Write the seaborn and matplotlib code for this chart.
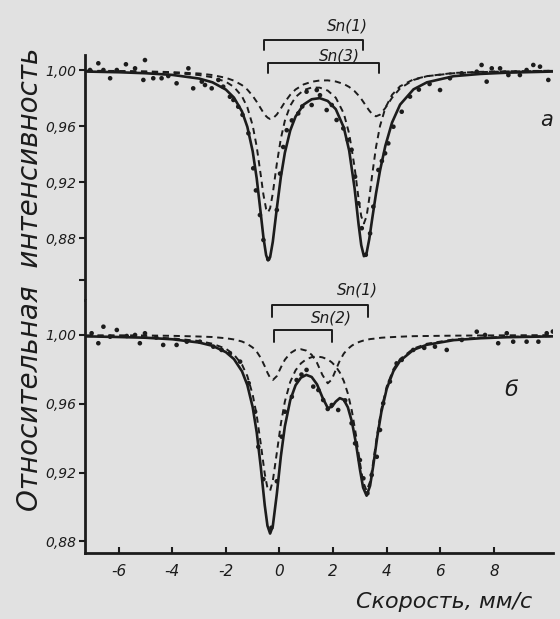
import matplotlib
matplotlib.use("Agg")
import matplotlib.pyplot as plt
import seaborn as sns

# --- panel a: fitted spectrum and its two doublets ---
vel_a = [-7.2, -6.0, -5.0, -4.0, -3.0, -2.5, -2.0, -1.7, -1.4, -1.2, -1.0, -0.85, -0.7, -0.6,
         -0.5, -0.43, -0.35, -0.25, -0.1, 0.05, 0.2, 0.4, 0.6, 0.9, 1.2, 1.5, 1.8, 2.1, 2.4,
         2.6, 2.8, 2.95, 3.05, 3.15, 3.25, 3.35, 3.45, 3.6, 3.75, 3.95, 4.2, 4.5, 5.0, 5.5,
         6.5, 7.5, 8.5, 10.2]
total_a = [.9989, .9984, .9977, .9965, .9939, .9912, .9860, .9803, .9704, .9594, .9419, .9225,
           .8976, .8805, .8678, .8641, .8663, .8773, .9012, .9235, .9409, .9568, .9668, .9753,
           .9791, .9799, .9779, .9720, .9589, .9424, .9157, .8899, .8749, .8670, .8693, .8793,
           .8926, .9117, .9281, .9459, .9625, .9753, .9862, .9912, .9956, .9972, .9981, .9989]
sn1_a = [.9994, .9991, .9987, .9980, .9964, .9948, .9916, .9879, .9812, .9734, .9603, .9452,
         .9250, .9110, .9008, .8983, .9013, .9119, .9330, .9510, .9638, .9745, .9807, .9856,
         .9875, .9874, .9853, .9802, .9689, .9545, .9308, .9081, .8955, .8904, .8956, .9084,
         .9239, .9448, .9600, .9730, .9823, .9884, .9933, .9956, .9977, .9985, .9990, .9994]
sn3_a = [.9995, .9993, .9990, .9985, .9975, .9964, .9944, .9924, .9892, .9860, .9815, .9773,
         .9726, .9695, .9670, .9658, .9650, .9654, .9682, .9725, .9771, .9823, .9861, .9897,
         .9916, .9925, .9926, .9918, .9900, .9879, .9849, .9818, .9794, .9766, .9737, .9710,
         .9687, .9669, .9681, .9729, .9802, .9869, .9929, .9956, .9979, .9987, .9991, .9995]

dots_ax = [-7.07, -6.76, -6.57, -6.32, -6.07, -5.73, -5.39, -5.08, -5.02, -4.71, -4.40, -4.15,
           -3.84, -3.40, -3.22, -2.90, -2.78, -2.53, -2.28, -2.10, -1.85, -1.72, -1.54, -1.38,
           -1.16, -0.98, -0.88, -0.73, -0.60, -0.42, -0.10, 0.02, 0.14, 0.27, 0.46, 0.70, 0.85,
           1.01, 1.20, 1.39, 1.51, 1.76, 1.95, 2.13, 2.38, 2.55, 2.69, 2.82, 2.94, 3.07, 3.22,
           3.38, 3.50, 3.69, 3.82, 3.94, 4.06, 4.25, 4.56, 4.87, 5.20, 5.60, 5.99, 6.36, 6.80,
           7.36, 7.54, 7.73, 7.92, 8.23, 8.54, 8.97, 9.22, 9.47, 9.72, 10.03]
dots_ay = [1.000, 1.0048, 1.000, .9941, 1.000, 1.0041, 1.0012, .9929, 1.0071, .9941, .9941, .9957,
           .9905, 1.0012, .9869, .9917, .9893, .9869, .9929, .9881, .9809, .9786, .9738, .9680,
           .9548, .9298, .9140, .8964, .8786, .8650, .9000, .9260, .9450, .9570, .9640, .9690, .9740,
           .9845, .9750, .9857, .9820, .9714, .9750, .9643, .9583, .9500, .9430, .9238, .9048, .8870, .8680,
           .8833, .9024, .9286, .9350, .9405, .9476, .9595, .9702, .9810, .9860, .9900, .9857, .9941, .9976,
           .9988, 1.0036, .9917, 1.0012, 1.0012, .9964, .9964, 1.000, 1.0036, 1.0024, .9929]

# --- panel b ---
vel_b = [-7.2, -6.0, -5.0, -4.0, -3.0, -2.5, -2.0, -1.7, -1.4, -1.2, -1.0, -0.85, -0.7, -0.55,
         -0.45, -0.35, -0.25, -0.1, 0.05, 0.2, 0.4, 0.6, 0.8, 1.0, 1.2, 1.4, 1.6, 1.8, 1.95, 2.1,
         2.25, 2.4, 2.55, 2.7, 2.85, 3.0, 3.12, 3.25, 3.38, 3.5, 3.65, 3.8, 4.0, 4.25, 4.5, 5.0,
         5.5, 6.5, 7.5, 8.5, 10.2]
total_b = [.9992, .9988, .9984, .9975, .9956, .9937, .9900, .9860, .9789, .9709, .9580, .9434,
           .9235, .9010, .8892, .8846, .8889, .9076, .9294, .9469, .9621, .9708, .9752, .9768,
           .9756, .9713, .9638, .9576, .9582, .9613, .9633, .9623, .9580, .9497, .9373, .9220,
           .9113, .9066, .9124, .9242, .9410, .9552, .9687, .9790, .9850, .9914, .9943, .9970,
           .9981, .9987, .9992]
sn1_b = [.9993, .9991, .9987, .9980, .9965, .9949, .9920, .9886, .9828, .9761, .9653, .9532,
         .9369, .9193, .9111, .9095, .9152, .9315, .9483, .9613, .9727, .9795, .9835, .9859,
         .9871, .9875, .9870, .9858, .9841, .9817, .9782, .9732, .9660, .9559, .9422, .9260,
         .9146, .9095, .9148, .9264, .9428, .9568, .9700, .9801, .9860, .9921, .9949, .9974,
         .9984, .9989, .9993]
sn2_b = [.9998, .9998, .9997, .9995, .9991, .9988, .9981, .9974, .9962, .9948, .9927, .9903,
         .9867, .9818, .9781, .9751, .9738, .9761, .9811, .9856, .9894, .9913, .9917, .9909,
         .9885, .9838, .9768, .9719, .9741, .9797, .9851, .9892, .9919, .9938, .9952, .9961,
         .9967, .9972, .9976, .9978, .9981, .9984, .9986, .9988, .9990, .9993, .9994, .9996,
         .9997, .9998, .9999]

dots_bx = [-7.01, -6.76, -6.57, -6.32, -6.07, -5.70, -5.39, -5.21, -5.02, -4.60, -4.34, -3.84,
           -3.46, -2.97, -2.47, -2.16, -1.85, -1.47, -1.15, -0.91, -0.79, -0.60, -0.30, -0.10,
           0.08, 0.20, 0.46, 0.64, 0.82, 1.01, 1.26, 1.45, 1.63, 1.80, 1.95, 2.19, 2.45, 2.69,
           2.82, 3.00, 3.13, 3.28, 3.44, 3.63, 3.75, 3.87, 4.12, 4.37, 4.56, 4.99, 5.40, 5.80,
           6.24, 6.80, 7.36, 7.67, 8.16, 8.48, 8.72, 9.22, 9.66, 9.97, 10.2]
dots_by = [1.001, .9952, 1.0048, .999, 1.0029, .9994, 1.000, .9952, 1.001, .9985, .9942, .9942,
           .9961, .9961, .9932, .9913, .9893, .9845, .9720, .9554, .9350, .9162, .8880, .9150,
           .9409, .9554, .9641, .9738, .9770, .9797, .9700, .9680, .9622, .9570, .9593, .9564,
           .9620, .9487, .9370, .9273, .9167, .9080, .9186, .9292, .9448, .9603, .9729, .9835,
           .9855, .9913, .9925, .9932, .9913, .9971, 1.0019, 1.000, .9952, 1.001, .9961, .9961,
           .9961, 1.001, 1.002]

# doublet brackets: left line, right line, bar level, label, label centre (x, y)
brackets_a = [(-0.58, 3.13, 1.0214, "Sn(1)", 2.52, 1.0314),
              (-0.42, 3.72, 1.0048, "Sn(3)", 2.22, 1.0100)]
brackets_b = [(-0.29, 3.31, 1.0174, "Sn(1)", 2.89, 1.0262),
              (-0.20, 1.96, 1.0029, "Sn(2)", 1.92, 1.0099)]
yticks = [1.00, 0.96, 0.92, 0.88]
ytick_labels = ["1,00", "0,96", "0,92", "0,88"]
xticks = [-6, -4, -2, 0, 2, 4, 6, 8]

paper = "#e1e1e1"
ink = "#1c1c1c"

sns.set_style("ticks")
plt.rcParams["font.family"] = ["DejaVu Sans"]
plt.rcParams["font.style"] = "italic"

fig = plt.figure(figsize=(5.6, 6.19), dpi=100, facecolor=paper)
ax1 = fig.add_axes([0.1518, 0.5153, 0.8357, 0.3958], facecolor=paper)
ax2 = fig.add_axes([0.1518, 0.1066, 0.8357, 0.4087], facecolor=paper)


def draw_panel(ax, vel, total, comps, dx, dy, brackets):
    for comp in comps:
        sns.lineplot(x=vel, y=comp, ax=ax, color=ink, lw=1.4, ls="--")
        ax.lines[-1].set_dashes([3.2, 2.4])
    sns.lineplot(x=vel, y=total, ax=ax, color=ink, lw=1.9)
    sns.scatterplot(x=dx, y=dy, ax=ax, s=11, color=ink, edgecolor="none", zorder=5)
    step = 0.0068
    for left, right, level, label, lx, ly in brackets:
        ax.plot([left, left, right, right], [level - step, level, level, level - step],
                color=ink, lw=1.4, clip_on=False)
        ax.text(lx, ly, label, ha="center", va="center",
                fontsize=11, color=ink, clip_on=False)
    ax.set_xlim(-7.257, 10.205)
    ax.set_yticks(yticks)
    ax.set_yticklabels(ytick_labels, fontsize=10, color=ink)
    ax.set_xlabel("")
    ax.set_ylabel("")
    for side in ["top", "right"]:
        ax.spines[side].set_visible(False)
    ax.spines["left"].set_linewidth(2.0)
    ax.spines["left"].set_color(ink)
    ax.tick_params(axis="y", direction="out", length=4, width=1.5, color=ink, pad=2)


draw_panel(ax1, vel_a, total_a, [sn1_a, sn3_a], dots_ax, dots_ay, brackets_a)
draw_panel(ax2, vel_b, total_b, [sn1_b, sn2_b], dots_bx, dots_by, brackets_b)

ax1.set_ylim(0.8357, 1.0107)
ax1.set_yticks(yticks + [0.85])
ax1.set_yticklabels(ytick_labels + [""], fontsize=10, color=ink)
ax1.spines["bottom"].set_visible(False)
ax1.tick_params(axis="x", bottom=False, labelbottom=False)

ax2.set_ylim(0.8733, 1.0203)
ax2.set_xticks(xticks)
ax2.set_xticklabels([str(t) if t >= 0 else "-" + str(-t) for t in xticks], fontsize=11, color=ink)
ax2.spines["bottom"].set_linewidth(2.0)
ax2.spines["bottom"].set_color(ink)
ax2.tick_params(axis="x", direction="in", length=4, width=1.5, color=ink, pad=8)

fig.text(0.95, 0.012, "Скорость, мм/с", ha="right", va="bottom", fontsize=16, color=ink)
fig.text(0.054, 0.548, "Относительная  интенсивность", rotation=90, ha="center", va="center",
         fontsize=20, color=ink)
fig.text(0.987, 0.806, "a", ha="right", va="center", fontsize=15, color=ink)
fig.text(0.912, 0.37, "б", ha="center", va="center", fontsize=16, color=ink)

fig.savefig("out.png", dpi=100, facecolor=paper)
